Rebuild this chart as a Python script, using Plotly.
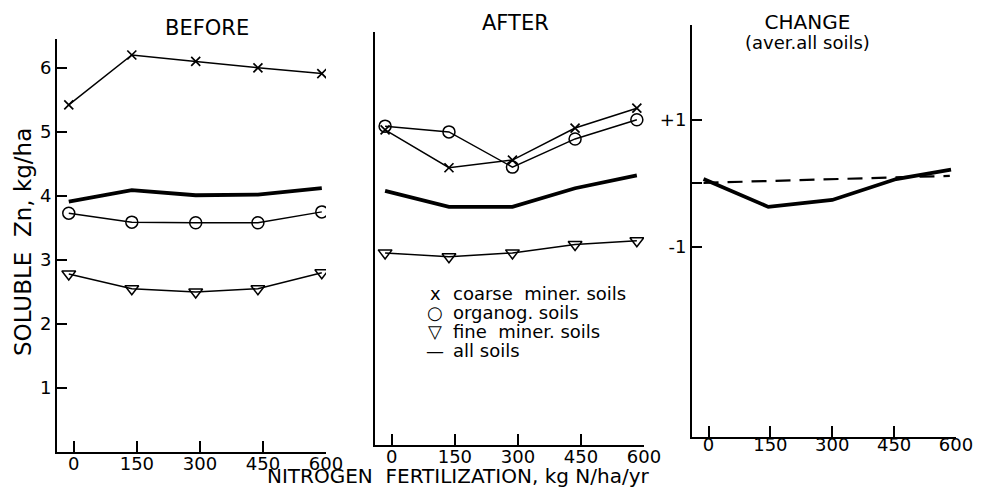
import plotly.graph_objects as go
from plotly.subplots import make_subplots

# nitrogen rates as plotted (markers sit a little off the ticks in the original)
x_before = [-12, 138, 290, 438, 590]
x_after = [-16, 136, 287, 436, 583]
x_change = [-12, 145, 300, 455, 588]
x_trend = [-12, 585]

# soluble Zn, kg/ha
before_coarse = [5.42, 6.20, 6.10, 6.00, 5.91]
before_organ = [3.73, 3.59, 3.58, 3.58, 3.75]
before_fine = [2.78, 2.55, 2.50, 2.55, 2.80]
before_all = [3.91, 4.09, 4.01, 4.02, 4.12]

after_coarse = [4.92, 4.33, 4.45, 4.95, 5.26]
after_organ = [4.98, 4.89, 4.34, 4.78, 5.08]
after_fine = [3.00, 2.94, 3.00, 3.13, 3.19]
after_all = [3.97, 3.72, 3.72, 4.01, 4.21]

# change, average of all soils
change_all = [0.07, -0.37, -0.26, 0.07, 0.22]
change_trend = [0.01, 0.12]

n_ticks = [0, 150, 300, 450, 600]
n_labels = ["0", "150", "300", "450", "600"]

legend_symbols = ["x", "○", "▽", "—"]
legend_labels = ["coarse  miner. soils", "organog. soils", "fine  miner. soils", "all soils"]

FONT = "DejaVu Sans"
# the page puts an 8px body margin round the figure; keep the figure inside the window
OFF = 8
W, H = 982 - 2 * OFF, 495 - 2 * OFF


def px_x(a, b):
    return [(a - OFF) / W, (b - OFF) / W]


def px_y(bottom, top):
    return [1 - (bottom - OFF) / H, 1 - (top - OFF) / H]


def note(x, y, text, size, **kw):
    kw.setdefault("yanchor", "middle")
    fig.add_annotation(x=(x - OFF) / W, y=1 - (y - OFF) / H, xref="paper", yref="paper",
                       text=text, showarrow=False,
                       font=dict(family=FONT, size=size, color="black"), **kw)


fig = make_subplots(rows=1, cols=3)

thin = dict(color="black", width=1.5)
thick = dict(color="black", width=3.8)
mk_x = dict(symbol="x-thin-open", size=9, color="black", line=dict(width=1.7, color="black"))
mk_o = dict(symbol="circle-open", size=12, color="black", line=dict(width=1.5, color="black"))
mk_v = dict(symbol="triangle-down-open", size=12, color="black", line=dict(width=1.5, color="black"))

panels = [
    (1, x_before, before_coarse, before_organ, before_fine, before_all),
    (2, x_after, after_coarse, after_organ, after_fine, after_all),
]
for col, xs, coarse, organ, fine, allsoils in panels:
    fig.add_trace(go.Scatter(x=xs, y=coarse, mode="lines+markers", line=thin, marker=mk_x,
                             showlegend=False), row=1, col=col)
    fig.add_trace(go.Scatter(x=xs, y=organ, mode="lines+markers", line=thin, marker=mk_o,
                             showlegend=False), row=1, col=col)
    fig.add_trace(go.Scatter(x=xs, y=fine, mode="lines+markers", line=thin, marker=mk_v,
                             showlegend=False), row=1, col=col)
    fig.add_trace(go.Scatter(x=xs, y=allsoils, mode="lines", line=thick,
                             showlegend=False), row=1, col=col)

fig.add_trace(go.Scatter(x=x_change, y=change_all, mode="lines", line=thick,
                         showlegend=False), row=1, col=3)
fig.add_trace(go.Scatter(x=x_trend, y=change_trend, mode="lines",
                         line=dict(color="black", width=2.2, dash="15px,9px"),
                         showlegend=False), row=1, col=3)

xline = dict(range=[-40, 600], tickvals=n_ticks, ticks="inside", showticklabels=False,
             ticklen=11, tickwidth=1.6, tickcolor="black", showline=True, linecolor="black",
             linewidth=2, showgrid=False, zeroline=False, automargin=False)
ycommon = dict(ticks="inside", ticklen=10, tickwidth=1.6, tickcolor="black", showline=True,
               linecolor="black", linewidth=2, showgrid=False, zeroline=False, automargin=False,
               tickfont=dict(family=FONT, size=18, color="black"))

# (x domain, y where the tick labels hang from) for each panel, in page px
frames = [((57, 326), 451), ((375, 644), 444), ((692, 956), 432)]

layout = {}
for i, ((a, b), label_y) in enumerate(frames):
    sfx = "" if i == 0 else str(i + 1)
    layout["xaxis" + sfx] = dict(domain=px_x(a, b), **xline)
    # label-only axis laid over the panel so the numbers sit close under the line
    layout["xaxis" + str(i + 4)] = dict(
        domain=px_x(a, b), range=[-40, 600], overlaying="x" + sfx, anchor="free",
        position=1 - (label_y - OFF) / H, tickvals=n_ticks, ticktext=n_labels, ticks="",
        showline=False, showgrid=False, zeroline=False, automargin=False,
        tickfont=dict(family=FONT, size=18, color="black"))
    fig.add_trace(go.Scatter(x=[None], y=[None], xaxis="x" + str(i + 4), yaxis="y" + sfx,
                             showlegend=False, hoverinfo="skip"))

layout["yaxis"] = dict(domain=px_y(452, 39), range=[0, 6.45], tickvals=[1, 2, 3, 4, 5, 6],
                       **ycommon)
layout["yaxis2"] = dict(domain=px_y(445, 32), range=[0, 6.45], tickvals=[], **ycommon)
layout["yaxis3"] = dict(domain=px_y(437, 25), range=[-4, 2.5], tickvals=[-1, 0, 1],
                        ticktext=["-1", "", "+1"], **ycommon)
fig.update_layout(**layout)

note(207, 28, "BEFORE", 21, xanchor="center")
note(515, 23, "AFTER", 21, xanchor="center")
note(807, 8, "<span style='font-size:20px'>CHANGE</span><br>"
     "<span style='font-size:18px'>(aver.all soils)</span>", 15,
     xanchor="center", yanchor="top")
note(458, 476, "NITROGEN  FERTILIZATION, kg N/ha/yr", 20, xanchor="center")
fig.add_annotation(x=0, y=1 - (242 - OFF) / H, xref="paper", yref="paper",
                   text="SOLUBLE  Zn, kg/ha", textangle=-90, showarrow=False,
                   xanchor="left", yanchor="middle",
                   font=dict(family=FONT, size=23, color="black"))

# legend drawn as text lines inside the AFTER panel
for i, (sym, lab) in enumerate(zip(legend_symbols, legend_labels)):
    yy = 293 + i * 19.3
    note(435, yy, sym, 18, xanchor="center")
    note(451, yy, lab, 18, xanchor="left")

fig.update_layout(
    width=W, height=H,
    margin=dict(l=0, r=0, t=0, b=0),
    paper_bgcolor="white", plot_bgcolor="white",
    showlegend=False,
)

fig.write_html("out.html")
